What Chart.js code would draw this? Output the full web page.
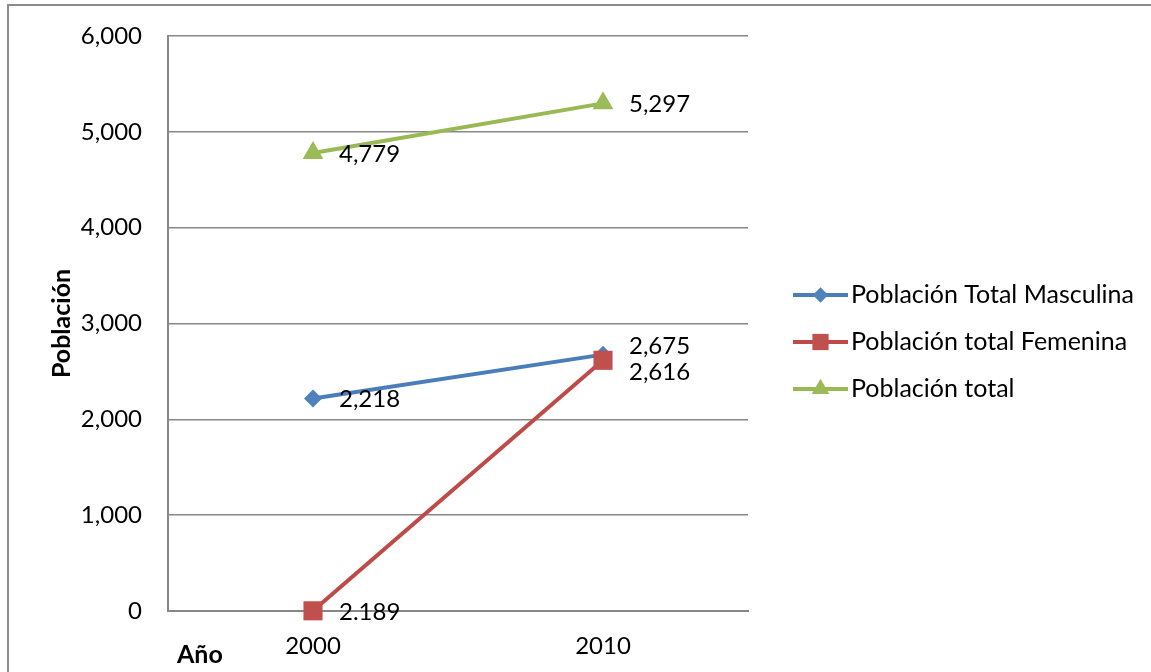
<!DOCTYPE html>
<html>
<head>
<meta charset="utf-8">
<script src="https://cdn.jsdelivr.net/npm/chart.js@4.4.1/dist/chart.umd.min.js"></script>
<style>
  html, body { margin: 0; padding: 0; background: #fff; overflow: hidden; }
  #wrap { position: relative; width: 1151px; height: 672px; }
  #frame { position: absolute; left: 7px; top: 4px; width: 1200px; height: 700px;
           border-left: 2px solid #8c8c8c; border-top: 2px solid #8c8c8c; }
  #chart { position: absolute; left: 0; top: 0; }
</style>
</head>
<body>
<div id="wrap">
  <div id="frame"></div>
  <canvas id="chart" width="1151" height="672"></canvas>
</div>
<script>
// --- DATA ---
const years = ['2000', '2010'];
const masculina = [2218, 2675];
const femenina = [2.189, 2616];
const total = [4779, 5297];
const seriesNames = ['Población Total Masculina', 'Población total Femenina', 'Población total'];

// --- STYLE ---
const FONT = 'Lato';
const lineColors = ['#4a7ebb', '#be4b48', '#98b954'];
const markerColors = ['#4f81bd', '#c0504d', '#9bbb59'];
const markerStyles = ['rectRot', 'rect', 'triangle'];
const markerRadius = [9, 13.5, 12];
// small vertical nudges so the 2010 labels don't overlap (like Excel does)
const labelNudge = [[0, -9], [0, 11], [0, 0]];

// draws the value next to each point, using the point positions from the scales
const pointLabels = {
    id: 'pointLabels',
    afterDatasetsDraw(chart) {
        const ctx = chart.ctx;
        ctx.save();
        ctx.font = `24px ${FONT}`;
        ctx.fillStyle = '#000';
        ctx.textAlign = 'left';
        ctx.textBaseline = 'middle';
        chart.data.datasets.forEach((ds, i) => {
            chart.getDatasetMeta(i).data.forEach((pt, j) => {
                const txt = ds.data[j].toLocaleString('en-US');
                ctx.fillText(txt, pt.x + 26, pt.y + 1 + labelNudge[i][j]);
            });
        });
        ctx.restore();
    }
};

// Excel-like legend: short line with the marker in the middle, plus the "Año" caption
const lineLegend = {
    id: 'lineLegend',
    afterDraw(chart) {
        const ctx = chart.ctx;
        const x0 = 793, x1 = 848, top = 295, step = 47;
        ctx.save();
        chart.data.datasets.forEach((ds, i) => {
            const y = top + i * step;
            ctx.strokeStyle = ds.borderColor;
            ctx.lineWidth = 4;
            ctx.beginPath();
            ctx.moveTo(x0, y);
            ctx.lineTo(x1, y);
            ctx.stroke();
            ctx.fillStyle = ds.pointBackgroundColor;
            ctx.strokeStyle = ds.pointBorderColor;
            Chart.helpers.drawPoint(ctx, {
                pointStyle: ds.pointStyle,
                radius: ds.pointRadius * 0.85,
                borderWidth: 0,
                rotation: 0
            }, (x0 + x1) / 2, y);
            ctx.fillStyle = '#000';
            ctx.font = `25px ${FONT}`;
            ctx.textAlign = 'left';
            ctx.textBaseline = 'middle';
            ctx.fillText(ds.label, x1 + 3, y);
        });
        // x axis caption, sits under the axis on the left
        ctx.font = `bold 25px ${FONT}`;
        ctx.fillStyle = '#000';
        ctx.textBaseline = 'middle';
        ctx.fillText('Año', 177, 655);
        ctx.restore();
    }
};

function makeSeries(i, data, order) {
    return {
        label: seriesNames[i],
        data: data,
        borderColor: lineColors[i],
        borderWidth: 4,
        pointStyle: markerStyles[i],
        pointRadius: markerRadius[i],
        pointBackgroundColor: markerColors[i],
        pointBorderColor: markerColors[i],
        pointBorderWidth: 0,
        tension: 0,
        clip: false,
        order: order
    };
}

const ctx = document.getElementById('chart').getContext('2d');
new Chart(ctx, {
    type: 'line',
    data: {
        labels: years,
        datasets: [
            makeSeries(0, masculina, 1),
            makeSeries(1, femenina, -1),
            makeSeries(2, total, 0)
        ]
    },
    options: {
        responsive: false,
        animation: false,
        layout: { padding: { left: 0, top: 36, right: 403, bottom: 0 } },
        plugins: {
            legend: { display: false },
            tooltip: { enabled: false }
        },
        scales: {
            x: {
                offset: true,
                grid: { display: false, drawTicks: false },
                border: { color: '#878787', width: 2 },
                ticks: { padding: 21, color: '#000', font: { family: FONT, size: 24 } },
                afterFit: s => { s.height = 61; }
            },
            y: {
                min: 0,
                max: 6000,
                ticks: {
                    stepSize: 1000,
                    padding: 26,
                    color: '#000',
                    font: { family: FONT, size: 24 }
                },
                grid: { color: '#878787', lineWidth: 1.5, drawTicks: false },
                border: { color: '#878787', width: 2 },
                title: {
                    display: true,
                    text: 'Población',
                    color: '#000',
                    font: { family: FONT, size: 25, weight: 'bold' },
                    padding: { top: 47, bottom: 0 }
                },
                afterFit: s => {
                    s.width = 168;
                    // keep the plot top fixed, the tick label overflow is not needed
                    s.paddingTop = 0;
                    s.paddingBottom = 0;
                }
            }
        }
    },
    plugins: [pointLabels, lineLegend]
});
</script>
</body>
</html>
